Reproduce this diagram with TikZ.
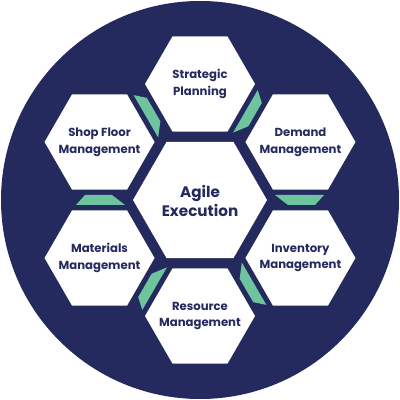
\documentclass[tikz,border=0pt]{standalone}
\usepackage{fontspec}
\setmainfont{Poppins}
\definecolor{navy}{RGB}{36,42,94}
\definecolor{mint}{RGB}{110,196,158}
\begin{document}
\begin{tikzpicture}[x=0.025cm,y=0.025cm,
  lbl/.style={text=navy,font=\bfseries\fontsize{8.3}{12}\selectfont,align=center,inner sep=0},
  biglbl/.style={text=navy,font=\bfseries\fontsize{10.8}{14}\selectfont,align=center,inner sep=0}]
\useasboundingbox (-200,-200) rectangle (200,200);
\fill[navy] (0,0) coordinate (ctr) circle (199);
% green connectors in the gaps between outer hexagons
\foreach \a in {0,60,...,300}{
  \fill[mint, rotate=\a] (75,5) -- (124,5) -- (115,-5) -- (88,-5) -- cycle;
}
% outer hexagons
\foreach \ang/\nm in {90/strat,30/demand,-30/inv,-90/res,-150/mat,150/shop}{
  \coordinate (\nm) at (\ang:116);
  \fill[white] (\nm) +(0:55) -- +(60:55) -- +(120:55) -- +(180:55) -- +(240:55) -- +(300:55) -- cycle;
}
% centre hexagon
\fill[white] (ctr) +(0:67) -- +(60:67) -- +(120:67) -- +(180:67) -- +(240:67) -- +(300:67) -- cycle;
% labels
\node[biglbl] (tctr) at (0,-1) {Agile\\Execution};
\node[lbl] (tstrat) at (strat) {Strategic\\Planning};
\node[lbl] (tdemand) at (demand) {Demand\\Management};
\node[lbl] (tinv) at (inv) {Inventory\\Management};
\node[lbl] (tres) at (res) {Resource\\Management};
\node[lbl] (tmat) at (mat) {Materials\\Management};
\node[lbl] (tshop) at (shop) {Shop Floor\\Management};
\end{tikzpicture}
\end{document}
